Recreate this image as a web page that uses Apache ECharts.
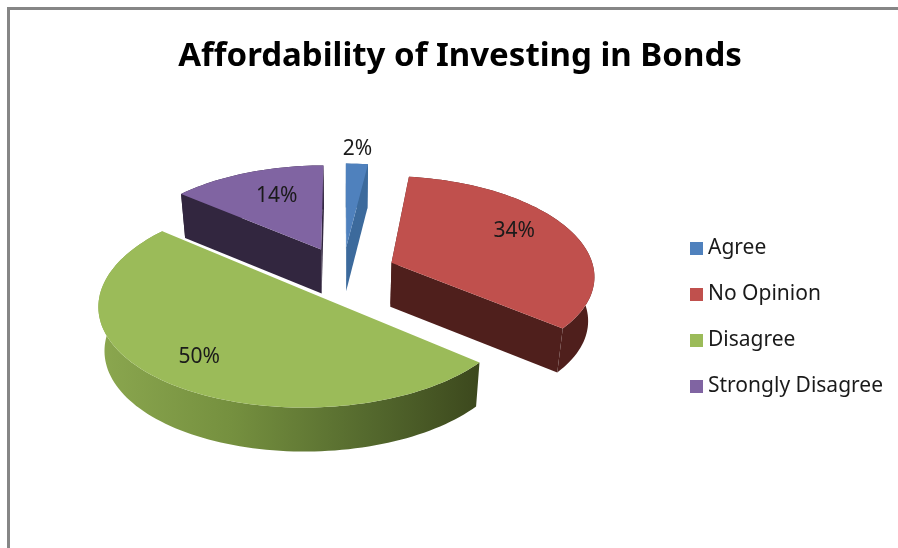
<!DOCTYPE html>
<html>
<head>
<meta charset="utf-8">
<title>Affordability of Investing in Bonds</title>
<script src="https://cdn.jsdelivr.net/npm/echarts@6/dist/echarts.min.js"></script>
<style>
html, body { margin: 0; padding: 0; background: #fff; }
#main { width: 898px; height: 548px; }
</style>
</head>
<body>
<div id="main"></div>
<script>
var categories = ['Agree', 'No Opinion', 'Disagree', 'Strongly Disagree'];
var percents = [2, 34, 50, 14];

var topColors = ['#4f81bd', '#c0504d', '#9bbb59', '#8064a2'];
var sideColors = ['#3c6a9c', '#4f1f1c', '#55682f', '#32263f'];
var drawOrder = [2, 1, 3, 0]; // z of each slice, front ones on top
var labelRadius = [1.2, 0.73, 0.76, 0.66];
var labelSpread = [0.45, 0.45, 0.495, 0.56]; // where the label sits across the slice, 0 start, 1 end

// fake 3d view of the pie plane
var view = { cx: 343, cy: 272, rx: 203, rz: 98, perspX: 0.12, perspY: 0.11, explode: 0.26, depth: 44, shrink: 0.975 };
var fontName = '"Noto Sans", sans-serif';

var total = percents.reduce(function (a, b) { return a + b; }, 0);

function project(x, z, dropped) {
	var px = view.cx + view.rx * x / (1 + view.perspX * z);
	var py = view.cy - view.rz * z / (1 + view.perspY * z);
	if (dropped) {
		px = view.cx + (px - view.cx) * view.shrink;
		py += view.depth;
	}
	return [px, py];
}

function sliceAngles(index) {
	var before = 0;
	for (var i = 0; i < index; i++) before += percents[i];
	var a0 = before / total * Math.PI * 2;
	return [a0, a0 + percents[index] / total * Math.PI * 2];
}

function renderSlice(index) {
	return function () {
		var ang = sliceAngles(index);
		var mid = (ang[0] + ang[1]) / 2;
		var ox = view.explode * Math.sin(mid);
		var oz = view.explode * Math.cos(mid);
		var rimTop = [], rimBottom = [];
		var steps = Math.max(2, Math.round((ang[1] - ang[0]) / 0.03));
		for (var i = 0; i <= steps; i++) {
			var a = ang[0] + (ang[1] - ang[0]) * i / steps;
			rimTop.push(project(ox + Math.sin(a), oz + Math.cos(a), false));
			rimBottom.push(project(ox + Math.sin(a), oz + Math.cos(a), true));
		}
		var apexTop = project(ox, oz, false);
		var apexBottom = project(ox, oz, true);

		var sideFill = sideColors[index];
		if (index === 2) {
			sideFill = new echarts.graphic.LinearGradient(0, 0, 1, 0, [
				{ offset: 0, color: '#8ba74f' },
				{ offset: 0.35, color: '#75903f' },
				{ offset: 0.7, color: '#556a2e' },
				{ offset: 1, color: '#3c481d' }
			]);
		}

		var children = [];
		// outer wall
		children.push({
			type: 'polygon',
			shape: { points: rimTop.concat(rimBottom.slice().reverse()) },
			style: { fill: sideFill }
		});
		// the two cut faces
		if (index !== 2) {
			children.push({
				type: 'polygon',
				shape: { points: [apexTop, rimTop[0], rimBottom[0], apexBottom] },
				style: { fill: sideColors[index] }
			});
			children.push({
				type: 'polygon',
				shape: { points: [apexTop, rimTop[steps], rimBottom[steps], apexBottom] },
				style: { fill: sideColors[index] }
			});
		}
		// top face
		children.push({
			type: 'polygon',
			shape: { points: [apexTop].concat(rimTop) },
			style: { fill: topColors[index] }
		});
		// percent label
		var la = ang[0] + (ang[1] - ang[0]) * labelSpread[index];
		var lp = project(ox + labelRadius[index] * Math.sin(la), oz + labelRadius[index] * Math.cos(la), false);
		children.push({
			type: 'text',
			style: {
				text: Math.round(percents[index] / total * 100) + '%',
				x: lp[0],
				y: lp[1],
				align: 'center',
				verticalAlign: 'middle',
				fill: '#1a1a1a',
				font: '21px ' + fontName
			}
		});
		return { type: 'group', children: children };
	};
}

var series = [];
for (var i = 0; i < categories.length; i++) {
	series.push({
		name: categories[i],
		type: 'custom',
		coordinateSystem: 'none',
		z: drawOrder[i] + 2,
		silent: true,
		animation: false,
		itemStyle: { color: topColors[i] },
		data: [percents[i]],
		renderItem: renderSlice(i)
	});
}

var myChart = echarts.init(document.getElementById('main'));
myChart.setOption({
	backgroundColor: '#fff',
	animation: false,
	title: {
		text: 'Affordability of Investing in Bonds',
		left: 455,
		top: 35,
		textAlign: 'center',
		textStyle: { color: '#000', fontSize: 33, fontWeight: 'bold', fontFamily: fontName }
	},
	legend: {
		orient: 'vertical',
		left: 690,
		top: 238,
		padding: 0,
		icon: 'rect',
		itemWidth: 13,
		itemHeight: 13,
		itemGap: 25,
		selectedMode: false,
		textStyle: { color: '#1a1a1a', fontSize: 21, fontFamily: fontName },
		data: categories
	},
	graphic: [{
		// chart area frame, only top and left show in the crop
		type: 'polyline',
		shape: { points: [[8.5, 548], [8.5, 8.5], [898, 8.5]] },
		style: { fill: null, stroke: '#868686', lineWidth: 3 }
	}],
	series: series
});
</script>
</body>
</html>
